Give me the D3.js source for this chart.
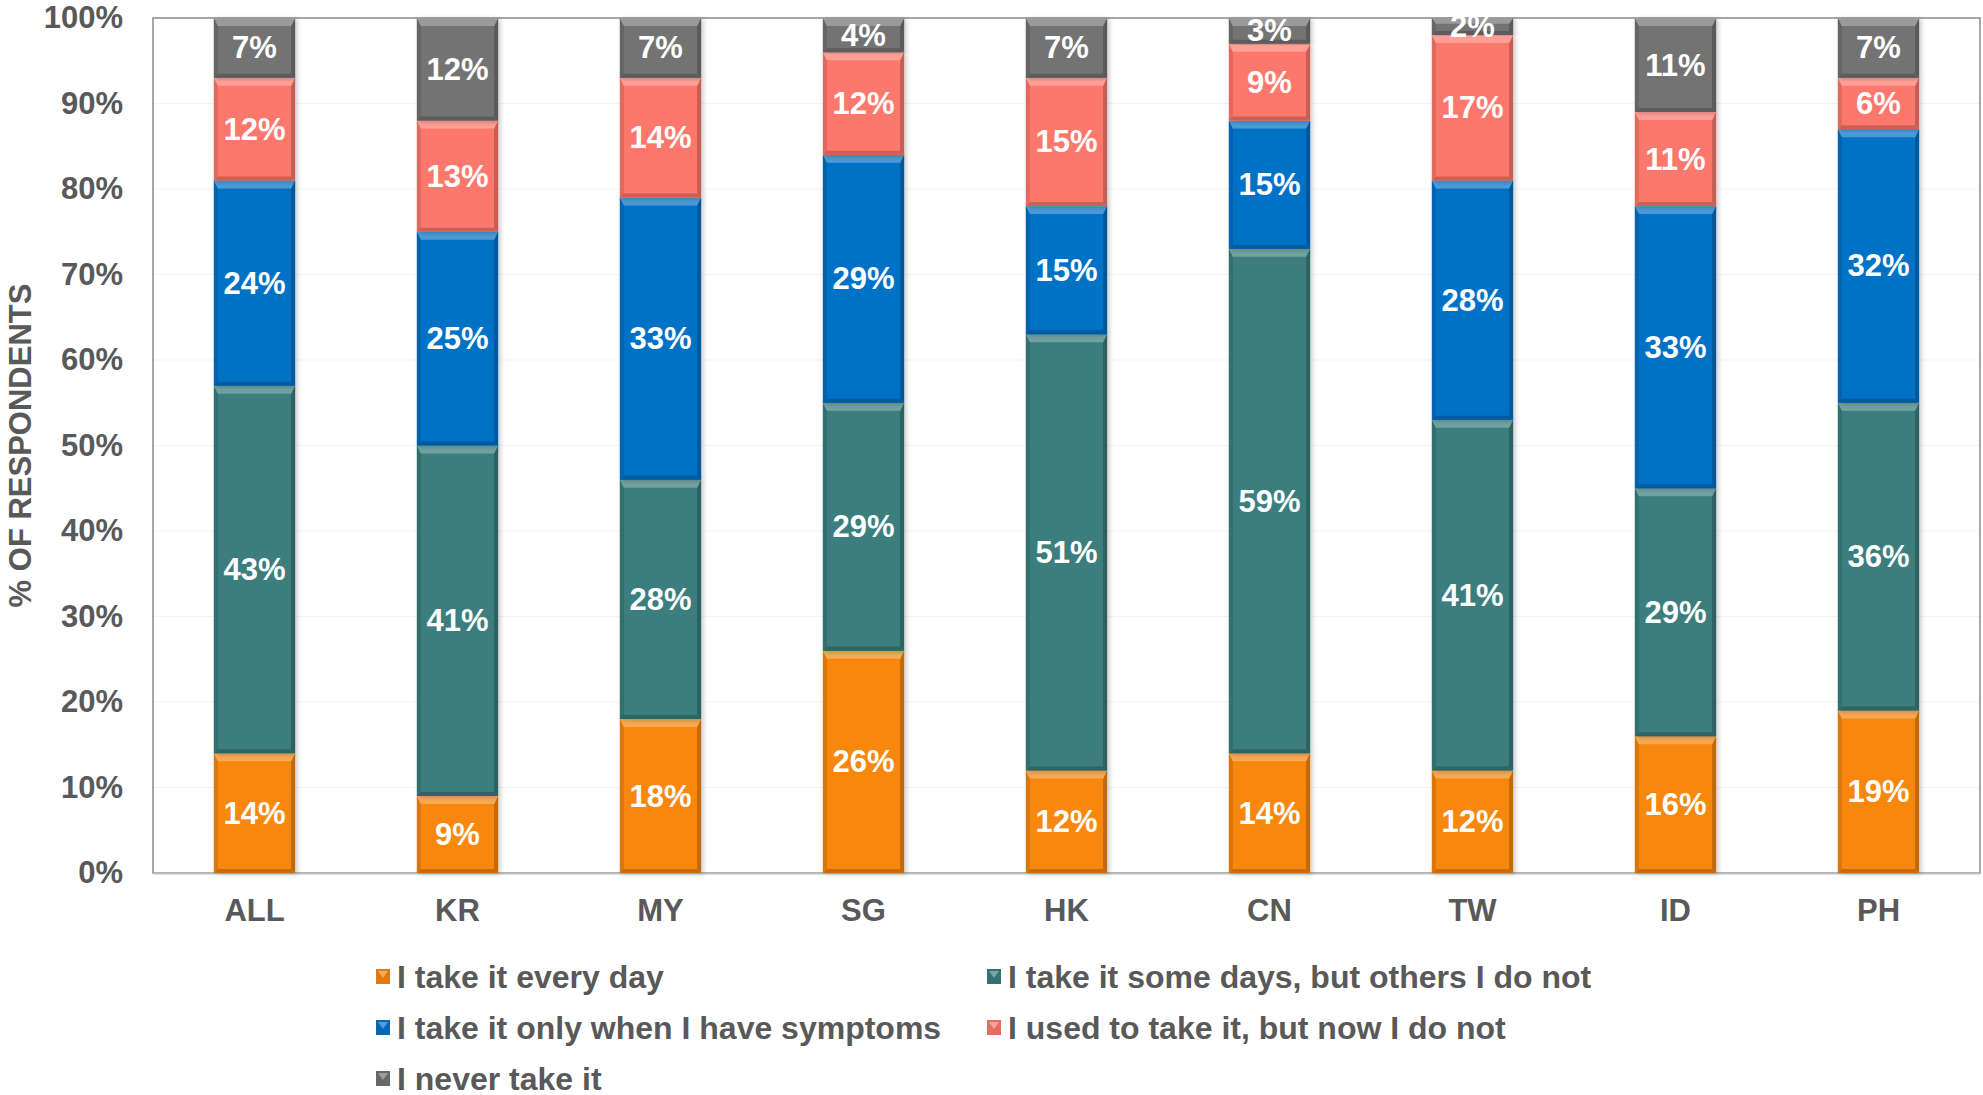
<!DOCTYPE html>
<html>
<head>
<meta charset="utf-8">
<script src="https://cdn.jsdelivr.net/npm/d3@7"></script>
<style>
  html, body { margin: 0; padding: 0; background: #fff; }
  svg { display: block; }
  text { font-family: "Liberation Sans", Arial, sans-serif; font-weight: bold; }
</style>
</head>
<body>
<svg id="chart" width="1983" height="1095"></svg>
<script>
// Survey answers, share of respondents per market (percent)
const categories = ["ALL", "KR", "MY", "SG", "HK", "CN", "TW", "ID", "PH"];
const seriesNames = [
  "I take it every day",
  "I take it some days, but others I do not",
  "I take it only when I have symptoms",
  "I used to take it, but now I do not",
  "I never take it"
];
const everyDay     = [14,  9, 18, 26, 12, 14, 12, 16, 19];
const someDays     = [43, 41, 28, 29, 51, 59, 41, 29, 36];
const whenSymptoms = [24, 25, 33, 29, 15, 15, 28, 33, 32];
const usedTo       = [12, 13, 14, 12, 15,  9, 17, 11,  6];
const never        = [ 7, 12,  7,  4,  7,  3,  2, 11,  7];
const yTicks = [0, 10, 20, 30, 40, 50, 60, 70, 80, 90, 100];

const seriesValues = [everyDay, someDays, whenSymptoms, usedTo, never];
const colors = ["#f7870f", "#3a7e7d", "#0672c6", "#fd786c", "#737373"];

const svg = d3.select("#chart");
const margin = { left: 153, right: 3, top: 18, bottom: 222 };
const W = 1983, H = 1095;
const plotW = W - margin.left - margin.right;
const plotH = H - margin.top - margin.bottom;

// one row per category, one key per series
const rows = categories.map((c, i) => {
  const r = { cat: c };
  seriesNames.forEach((s, k) => { r[s] = seriesValues[k][i]; });
  return r;
});
const stacked = d3.stack().keys(seriesNames)(rows);

const x = d3.scaleBand().domain(categories).range([0, plotW]).paddingInner(0.6).paddingOuter(0.3);
const y = d3.scaleLinear().domain([0, 100]).range([plotH, 0]);

const defs = svg.append("defs");
const shadow = defs.append("filter").attr("id", "shadow")
  .attr("x", "-20%").attr("y", "-5%").attr("width", "140%").attr("height", "110%");
shadow.append("feDropShadow").attr("dx", 2).attr("dy", 1).attr("stdDeviation", 2.5)
  .attr("flood-color", "#000").attr("flood-opacity", 0.22);

const g = svg.append("g").attr("transform", `translate(${margin.left},${margin.top})`);

// faint horizontal gridlines
g.append("g").selectAll("line").data(yTicks.slice(1, -1)).join("line")
  .attr("x1", 0).attr("x2", plotW)
  .attr("y1", d => y(d)).attr("y2", d => y(d))
  .attr("stroke", "#f3f3f3").attr("stroke-width", 1);

// plot frame
g.append("rect").attr("x", 0).attr("y", 0).attr("width", plotW).attr("height", plotH)
  .attr("fill", "none").attr("stroke", "#8a8a8a").attr("stroke-width", 1.5);

// y axis tick labels
const yAxis = d3.axisLeft(y).tickValues(yTicks).tickFormat(d => d + "%").tickSize(0).tickPadding(30);
const ya = g.append("g").call(yAxis);
ya.select(".domain").remove();
ya.selectAll("text").attr("font-size", 31).attr("fill", "#595959")
  .attr("font-family", "Liberation Sans, Arial, sans-serif").attr("font-weight", "bold");

// x axis
const xAxis = d3.axisBottom(x).tickSize(0).tickPadding(26);
const xa = g.append("g").attr("transform", `translate(0,${plotH})`).call(xAxis);
xa.select(".domain").attr("stroke", "#bfbfbf").attr("stroke-width", 2);
xa.selectAll("text").attr("font-size", 31).attr("fill", "#595959")
  .attr("font-family", "Liberation Sans, Arial, sans-serif").attr("font-weight", "bold");

// bevelled stacked bars
const lighten = (c, k) => d3.interpolateRgb(c, "#ffffff")(k);
const darken = (c, k) => d3.interpolateRgb(c, "#000000")(k);

stacked.forEach((layer, k) => {
  const col = colors[k];
  const lg = g.append("g").attr("class", "series");
  layer.forEach((d, i) => {
    const cat = categories[i];
    const x0 = x(cat), x1 = x0 + x.bandwidth();
    const yTop = y(d[1]), yBot = y(d[0]);
    const seg = lg.append("g").attr("filter", "url(#shadow)");
    seg.append("rect").attr("x", x0).attr("y", yTop).attr("width", x1 - x0).attr("height", yBot - yTop)
      .attr("fill", col);
    const bt = Math.min(8, (yBot - yTop) / 3), bs = 4;
    const pts = a => a.map(p => p.join(",")).join(" ");
    // left / right edges
    seg.append("polygon").attr("points", pts([[x0, yTop], [x0 + bs, yTop + bt], [x0 + bs, yBot - bs], [x0, yBot]]))
      .attr("fill", darken(col, 0.12));
    seg.append("polygon").attr("points", pts([[x1, yTop], [x1 - bs, yTop + bt], [x1 - bs, yBot - bs], [x1, yBot]]))
      .attr("fill", darken(col, 0.22));
    // bottom edge
    seg.append("polygon").attr("points", pts([[x0, yBot], [x0 + bs, yBot - bs], [x1 - bs, yBot - bs], [x1, yBot]]))
      .attr("fill", darken(col, 0.2));
    // top highlight
    seg.append("polygon").attr("points", pts([[x0, yTop], [x1, yTop], [x1 - bs, yTop + bt], [x0 + bs, yTop + bt]]))
      .attr("fill", lighten(col, 0.28));
  });
});

// value labels
stacked.forEach((layer, k) => {
  g.append("g").selectAll("text").data(layer).join("text")
    .attr("x", (d, i) => x(categories[i]) + x.bandwidth() / 2)
    .attr("y", d => (y(d[0]) + y(d[1])) / 2)
    .attr("text-anchor", "middle").attr("dominant-baseline", "central")
    .attr("font-size", 31).attr("fill", "#ffffff")
    .text(d => (d[1] - d[0]) + "%");
});

// y axis title
svg.append("text")
  .attr("transform", `translate(20,${margin.top + plotH / 2}) rotate(-90)`)
  .attr("text-anchor", "middle").attr("dominant-baseline", "central")
  .attr("font-size", 31).attr("fill", "#595959")
  .text("% OF RESPONDENTS");

// legend
const legendPos = [[376, 976], [987, 976], [376, 1027], [987, 1027], [376, 1078]];
seriesNames.forEach((s, k) => {
  const [lx, ly] = legendPos[k];
  const lgItem = svg.append("g").attr("transform", `translate(${lx},${ly})`);
  const col = colors[k];
  lgItem.append("rect").attr("x", 0).attr("y", -7).attr("width", 14).attr("height", 15).attr("fill", darken(col, 0.1));
  lgItem.append("polygon").attr("points", "2,-5 12,-5 7,2").attr("fill", lighten(col, 0.3));
  lgItem.append("text").attr("x", 21).attr("y", 1)
    .attr("dominant-baseline", "central")
    .attr("font-size", 32).attr("fill", "#595959")
    .text(s);
});
</script>
</body>
</html>
